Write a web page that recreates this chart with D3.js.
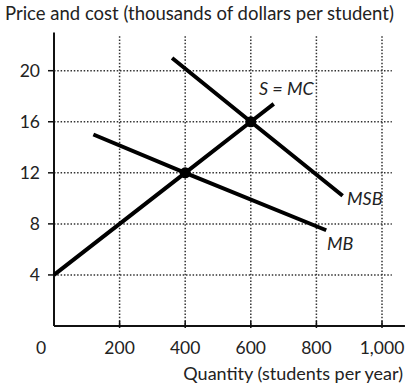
<!DOCTYPE html>
<html>
<head>
<meta charset="utf-8">
<script src="https://cdn.jsdelivr.net/npm/d3@7"></script>
<style>
  body { margin: 0; background: #fff; }
  text { font-family: Lato, "Open Sans", sans-serif; fill: #222; }
</style>
</head>
<body>
<script>
// tick values
const xTicks = [200, 400, 600, 800, 1000];
const yTicks = [4, 8, 12, 16, 20];

// curves: [quantity, price]
const smc = [[0, 4], [400, 12], [600, 16], [670, 17.4]];
const mb = [[120, 15], [400, 12], [830, 7.5]];
const msb = [[360, 21], [600, 16], [880, 10.2]];
const equilibria = [[400, 12], [600, 16]];

const W = 410, H = 386;
const left = 54, bottom = 326;

const svg = d3.select("body")
  .append("svg")
  .attr("width", W)
  .attr("height", H);

const x = d3.scaleLinear().domain([0, 1000]).range([left, 382]);
const y = d3.scaleLinear().domain([0, 20]).range([bottom, 70.7]);

// dotted grid
const grid = svg.append("g")
  .attr("stroke", "#333")
  .attr("stroke-width", 1.5)
  .attr("stroke-dasharray", "1.5,1.8");

grid.selectAll(".vg").data(xTicks).enter()
  .append("line")
  .attr("x1", d => x(d)).attr("x2", d => x(d))
  .attr("y1", y(22.7)).attr("y2", bottom);

grid.selectAll(".hg").data(yTicks).enter()
  .append("line")
  .attr("x1", left).attr("x2", x(1030))
  .attr("y1", d => y(d)).attr("y2", d => y(d));

// axes
svg.append("line")
  .attr("x1", left).attr("x2", x(1070))
  .attr("y1", bottom).attr("y2", bottom)
  .attr("stroke", "#111").attr("stroke-width", 2);
svg.append("line")
  .attr("x1", left).attr("x2", left)
  .attr("y1", y(23)).attr("y2", bottom)
  .attr("stroke", "#111").attr("stroke-width", 2);

// tick marks
svg.selectAll(".xt").data(xTicks).enter()
  .append("line")
  .attr("x1", d => x(d)).attr("x2", d => x(d))
  .attr("y1", bottom - 5).attr("y2", bottom + 2)
  .attr("stroke", "#111").attr("stroke-width", 1.5);
svg.selectAll(".yt").data(yTicks).enter()
  .append("line")
  .attr("x1", left - 6).attr("x2", left)
  .attr("y1", d => y(d)).attr("y2", d => y(d))
  .attr("stroke", "#111").attr("stroke-width", 1.5);

// tick labels
svg.selectAll(".xl").data(xTicks).enter()
  .append("text")
  .attr("x", d => x(d))
  .attr("y", 354)
  .attr("text-anchor", "middle")
  .attr("font-size", 17.5)
  .text(d => d3.format(",")(d));
svg.append("text")
  .attr("x", 41).attr("y", 354)
  .attr("text-anchor", "middle")
  .attr("font-size", 17.5)
  .text("0");

svg.selectAll(".yl").data(yTicks).enter()
  .append("text")
  .attr("x", 40)
  .attr("y", d => y(d) + 6)
  .attr("text-anchor", "end")
  .attr("font-size", 17.5)
  .text(d => d);

// axis titles
svg.append("text")
  .attr("x", 5).attr("y", 20)
  .attr("font-size", 18.5)
  .text("Price and cost (thousands of dollars per student)");
svg.append("text")
  .attr("x", 403).attr("y", 380)
  .attr("text-anchor", "end")
  .attr("font-size", 18)
  .text("Quantity (students per year)");

// curves
const line = d3.line().x(d => x(d[0])).y(d => y(d[1]));
[smc, mb, msb].forEach(c => {
  svg.append("path")
    .datum(c)
    .attr("d", line)
    .attr("fill", "none")
    .attr("stroke", "#000")
    .attr("stroke-width", 4);
});

svg.selectAll(".dot").data(equilibria).enter()
  .append("circle")
  .attr("cx", d => x(d[0]))
  .attr("cy", d => y(d[1]))
  .attr("r", 5.5)
  .attr("fill", "#000");

// curve labels
const labels = [["S = MC", 259, 95], ["MSB", 347, 205], ["MB", 327, 250]];
svg.selectAll(".cl").data(labels).enter()
  .append("text")
  .attr("x", d => d[1]).attr("y", d => d[2])
  .attr("font-size", 18)
  .attr("font-style", "italic")
  .text(d => d[0]);
</script>
</body>
</html>
